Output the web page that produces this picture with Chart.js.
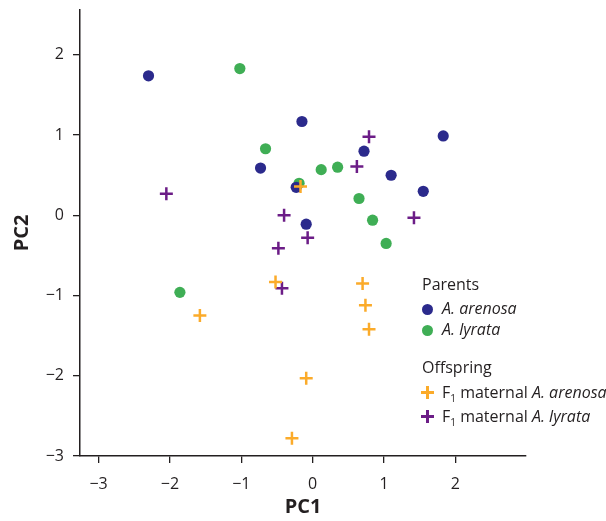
<!DOCTYPE html>
<html>
<head>
<meta charset="utf-8">
<script src="https://cdn.jsdelivr.net/npm/chart.js@4"></script>
<style>
  html, body { margin: 0; padding: 0; background: #fff; }
  #wrap { position: relative; width: 606px; height: 521px; }
  canvas { position: absolute; left: 0; top: 0; }
  .lg { position: absolute; font-family: "Open Sans", sans-serif; font-size: 16px; color: #231f20; white-space: nowrap; line-height: 20px; }
  .lg i { font-style: italic; }
  .lg sub { font-size: 10px; vertical-align: -4px; line-height: 0; }
  .dot { position: absolute; width: 11px; height: 11px; border-radius: 50%; }
  .plus { position: absolute; width: 13px; height: 13px; }
  .plus::before, .plus::after { content: ""; position: absolute; background: currentColor; }
  .plus::before { left: 5px; top: 0; width: 2.5px; height: 13px; }
  .plus::after { top: 5px; left: 0; height: 2.5px; width: 13px; }
</style>
</head>
<body>
<div id="wrap">
<canvas id="c" width="606" height="521"></canvas>
<div class="lg" style="left:422px; top:274px;">Parents</div>
<div class="dot" style="left:421.5px; top:304px; background:#2b2a8c;"></div>
<div class="lg" style="left:442px; top:298px;"><i>A. arenosa</i></div>
<div class="dot" style="left:421.5px; top:325px; background:#3fae55;"></div>
<div class="lg" style="left:442px; top:319px;"><i>A. lyrata</i></div>
<div class="lg" style="left:422px; top:357px;">Offspring</div>
<div class="plus" style="left:421px; top:386px; color:#fbab2a;"></div>
<div class="lg" style="left:442px; top:382px;">F<sub>1</sub> maternal <i>A. arenosa</i></div>
<div class="plus" style="left:421px; top:410px; color:#6c1d87;"></div>
<div class="lg" style="left:442px; top:406px;">F<sub>1</sub> maternal <i>A. lyrata</i></div>
</div>
<script>
// ---- data ----
const xTicks = [-3, -2, -1, 0, 1, 2];
const yTicks = [-3, -2, -1, 0, 1, 2];
const arenosaPC1 = [-2.30, -0.15, -0.73, -0.23, -0.09, 0.72, 1.10, 1.55, 1.83];
const arenosaPC2 = [1.74, 1.17, 0.59, 0.35, -0.11, 0.80, 0.50, 0.30, 0.99];
const lyrataPC1 = [-1.02, -0.66, -0.19, 0.12, 0.35, 0.65, 0.84, 1.03, -1.86];
const lyrataPC2 = [1.83, 0.83, 0.40, 0.57, 0.60, 0.21, -0.06, -0.35, -0.96];
const f1ArenosaPC1 = [-0.17, -0.52, -1.58, -0.29, 0.70, 0.74, 0.79, -0.09];
const f1ArenosaPC2 = [0.36, -0.83, -1.25, -2.78, -0.85, -1.12, -1.42, -2.03];
const f1LyrataPC1 = [-2.05, -0.40, -0.48, 0.79, 0.62, 1.42, -0.07, -0.43];
const f1LyrataPC2 = [0.27, 0.00, -0.41, 0.98, 0.61, -0.03, -0.28, -0.91];

const pts = (xs, ys) => xs.map((x, i) => ({ x, y: ys[i] }));
const minus = v => String(v).replace('-', '\u2212');
const axisColor = '#231f20';
const font = { family: '"Open Sans", sans-serif', size: 16 };

new Chart(document.getElementById('c'), {
  type: 'scatter',
  data: {
    datasets: [
      { label: 'F1 maternal A. arenosa', data: pts(f1ArenosaPC1, f1ArenosaPC2), pointStyle: 'cross',
        borderColor: '#fbab2a', pointRadius: 6.5, pointBorderWidth: 2.5, order: 0 },
      { label: 'F1 maternal A. lyrata', data: pts(f1LyrataPC1, f1LyrataPC2), pointStyle: 'cross',
        borderColor: '#6c1d87', pointRadius: 6.5, pointBorderWidth: 2.5, order: 1 },
      { label: 'A. arenosa', data: pts(arenosaPC1, arenosaPC2), pointStyle: 'circle',
        backgroundColor: '#2b2a8c', borderColor: '#2b2a8c', pointRadius: 5.6, pointBorderWidth: 0, order: 2 },
      { label: 'A. lyrata', data: pts(lyrataPC1, lyrataPC2), pointStyle: 'circle',
        backgroundColor: '#3fae55', borderColor: '#3fae55', pointRadius: 5.6, pointBorderWidth: 0, order: 3 }
    ]
  },
  options: {
    responsive: false,
    animation: false,
    layout: { padding: { left: 0, right: 80, top: 10, bottom: 0 } },
    plugins: { legend: { display: false }, tooltip: { enabled: false } },
    scales: {
      x: {
        type: 'linear', min: -3.26, max: 2.99,
        afterBuildTicks: s => { s.ticks = xTicks.map(v => ({ value: v })); },
        afterFit: s => { s.height = 65; s.paddingLeft = 0; s.paddingRight = 0; },
        grid: { drawOnChartArea: false, drawTicks: true, tickLength: 7, color: axisColor, lineWidth: 1.3 },
        border: { display: true, color: axisColor, width: 1.5 },
        ticks: { color: axisColor, font, padding: 12, callback: v => minus(v) },
        title: { display: true, text: 'PC1', color: axisColor, font: { family: '"Open Sans", sans-serif', size: 20, weight: 'bold' }, padding: { top: 0, bottom: 2 } }
      },
      y: {
        type: 'linear', min: -3, max: 2.56,
        afterBuildTicks: s => { s.ticks = yTicks.map(v => ({ value: v })); },
        afterFit: s => { s.width = 80; s.paddingTop = 0; s.paddingBottom = 0; },
        grid: { drawOnChartArea: false, drawTicks: true, tickLength: 7, color: axisColor, lineWidth: 1.3 },
        border: { display: true, color: axisColor, width: 1.5 },
        ticks: { color: axisColor, font, padding: 9, callback: v => minus(v) },
        title: { display: true, text: 'PC2', color: axisColor, font: { family: '"Open Sans", sans-serif', size: 20, weight: 'bold' }, padding: { top: 10, bottom: 0 } }
      }
    }
  }
});
</script>
</body>
</html>
